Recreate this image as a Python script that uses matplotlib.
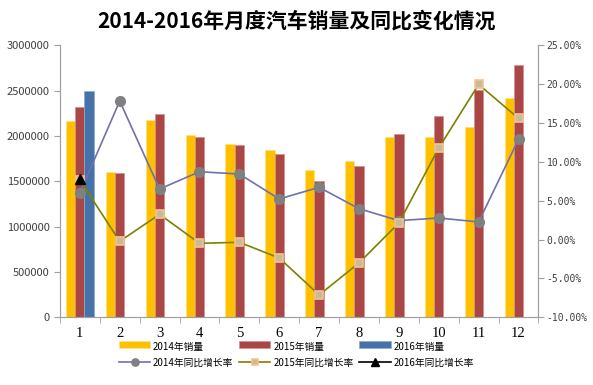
import matplotlib
matplotlib.use("Agg")
import matplotlib.pyplot as plt
import numpy as np
from matplotlib.ticker import FuncFormatter

plt.rcParams['font.family'] = ['Noto Sans CJK SC', 'DejaVu Sans']

months = ['1', '2', '3', '4', '5', '6', '7', '8', '9', '10', '11', '12']
sales_2014 = [2162000, 1600000, 2176000, 2011000, 1912000, 1849000, 1621000, 1720000, 1989000, 1989000, 2096000, 2415000]
sales_2015 = [2316000, 1588000, 2239000, 1993000, 1897000, 1798000, 1500000, 1665000, 2026000, 2217000, 2507000, 2787000]
sales_2016 = [2500000]
growth_2014 = [6.0, 17.84, 6.51, 8.74, 8.44, 5.23, 6.73, 3.98, 2.44, 2.78, 2.27, 12.90]
growth_2015 = [7.67, -0.22, 3.25, -0.48, -0.35, -2.37, -7.13, -3.01, 2.14, 11.79, 19.98, 15.61]
growth_2016 = [7.8]

fig = plt.figure(figsize=(5.93, 3.85), dpi=100)
ax = fig.add_axes([0.101, 0.176, 0.807, 0.706])
ax2 = ax.twinx()

x = np.arange(len(months))
w = 0.233
c14, c15, c16 = '#FFC000', '#AA4643', '#4572A7'
b1 = ax.bar(x - w, sales_2014, w, color=c14, edgecolor='#FFE080', linewidth=0.5, label='2014年销量')
b2 = ax.bar(x, sales_2015, w, color=c15, edgecolor='#D09090', linewidth=0.5, label='2015年销量')
b3 = ax.bar(x[:len(sales_2016)] + w, sales_2016, w, color=c16, edgecolor='#90A8D0', linewidth=0.5, label='2016年销量')

l1, = ax2.plot(x, growth_2014, color='#7070B0', lw=1.2, marker='o', ms=7,
               mfc='#808080', mec='#808080', label='2014年同比增长率')
l2, = ax2.plot(x, growth_2015, color='#808000', lw=1.2, marker='s', ms=6,
               mfc='#C4BD97', mec='#FAC090', mew=1.2, label='2015年同比增长率')
l3, = ax2.plot(x[:len(growth_2016)], growth_2016, color='black', lw=1.2, marker='^', ms=7,
               mfc='black', mec='black', label='2016年同比增长率')

ax.set_xlim(-0.5, 11.5)
ax.set_ylim(0, 3000000)
ax.set_yticks(np.arange(0, 3000001, 500000))
ax.yaxis.set_major_formatter(FuncFormatter(lambda v, p: f'{int(v)}'))
ax2.set_ylim(-10, 25)
ax2.set_yticks(np.arange(-10, 26, 5))
ax2.yaxis.set_major_formatter(FuncFormatter(lambda v, p: f'{v:.2f}%'))

ax.set_xticks(x)
ax.set_xticklabels(months, fontfamily='Liberation Serif', fontsize=10.5)
ax.set_xticks(np.arange(-0.5, 12, 1), minor=True)
ax.tick_params(axis='x', which='major', length=0, pad=7)
ax.tick_params(axis='x', which='minor', length=4, color='#A0A0A0')
ax.tick_params(axis='y', length=4, color='#A0A0A0', labelsize=8, labelcolor='#404040')
ax2.tick_params(axis='y', length=4, color='#A0A0A0', labelsize=7, labelcolor='#404040', pad=2)
for lab in ax2.get_yticklabels():
    lab.set_fontfamily('DejaVu Sans Mono')

for a in (ax, ax2):
    a.spines['top'].set_visible(False)
    for s in ('left', 'right', 'bottom'):
        a.spines[s].set_color('#A0A0A0')

fig.text(0.5, 0.945, '2014-2016年月度汽车销量及同比变化情况', ha='center', va='center',
         fontsize=15, fontweight='bold')

handles = [b1, l1, b2, l2, b3, l3]
labels = [h.get_label() for h in handles]
leg = fig.legend(handles, labels, loc='upper center', bbox_to_anchor=(0.5, 0.122), ncol=3,
                 frameon=False, fontsize=7, handlelength=3.2, columnspacing=0.6,
                 handletextpad=0.3, labelspacing=0.6, borderaxespad=0, markerscale=0.75)
for h in leg.legend_handles:
    if hasattr(h, 'set_height'):
        h.set_height(5)
        h.set_y(1.2)

fig.savefig('out.png', dpi=100)
